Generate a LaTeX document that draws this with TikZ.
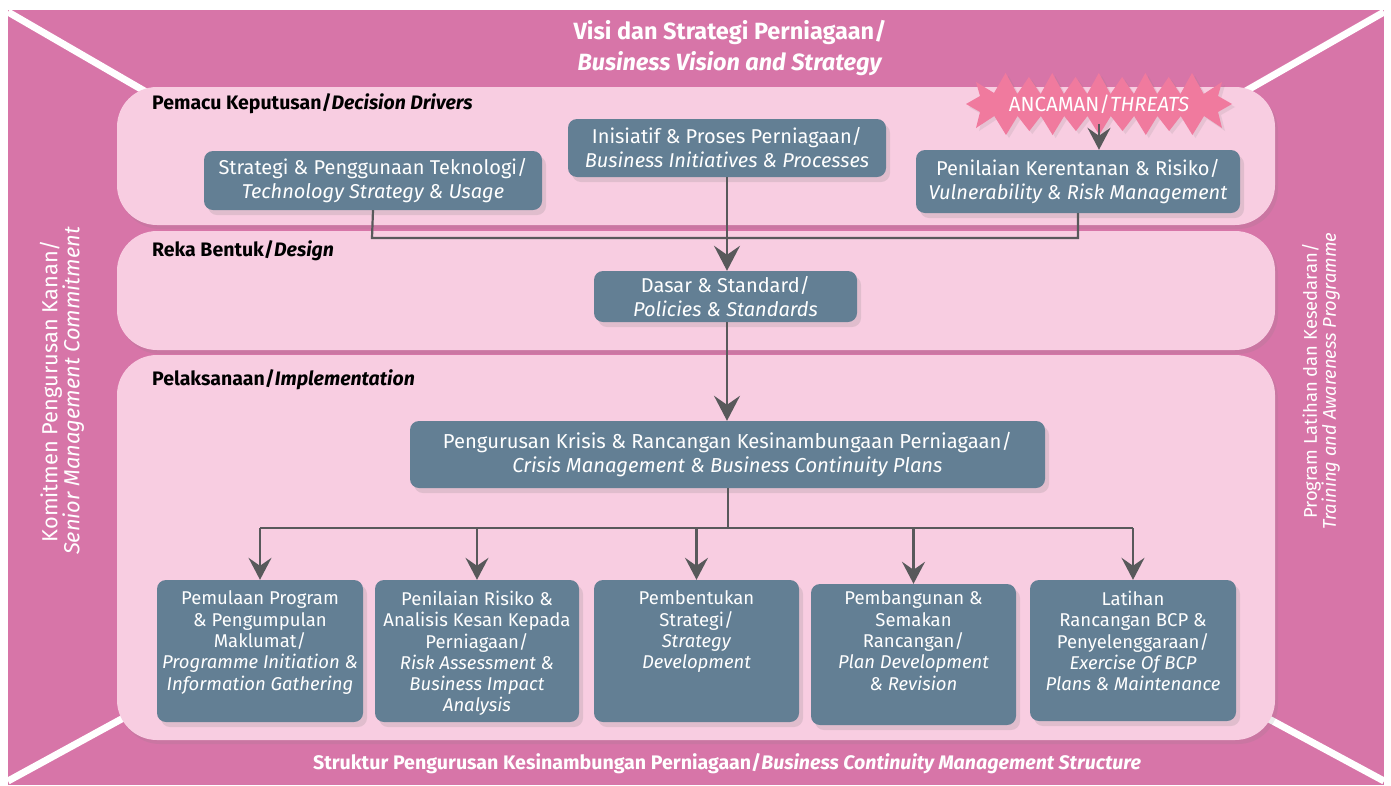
\documentclass[tikz,border=0pt]{standalone}
\usepackage{fontspec}
\setmainfont{Fira Sans}
\usetikzlibrary{arrows.meta,shadows}
\definecolor{outerc}{HTML}{D775A8}
\definecolor{panelc}{HTML}{F8CDE1}
\definecolor{boxc}{HTML}{637F94}
\definecolor{arrc}{HTML}{58595B}
\definecolor{starc}{HTML}{F07A9E}
\tikzset{
  panel/.style={fill=panelc, rounded corners=40pt, drop shadow={shadow xshift=3pt, shadow yshift=-4pt, opacity=0.15}},
  box/.style={fill=boxc, text=white, rounded corners=9pt, align=center, inner sep=0pt,
    drop shadow={shadow xshift=4pt, shadow yshift=-5pt, opacity=0.2}},
  topbox/.style={box, font=\fontsize{20}{24}\selectfont},
  bbox/.style={box},
  btext/.style={text=white, align=center, inner sep=0pt, anchor=north, font=\fontsize{18.5}{21.3}\selectfont},
  plabel/.style={anchor=west, inner sep=0pt, font=\fontsize{19.5}{20}\selectfont\bfseries},
  conn/.style={draw=arrc, line width=2.2pt},
  arr/.style={conn, -{Stealth[length=25pt, width=26pt, inset=9pt]}},
  sarr/.style={conn, -{Stealth[length=22pt, width=23pt, inset=8pt]}},
  diag/.style={white, line width=7pt},
}
\begin{document}
\begin{tikzpicture}[x=1pt, y=-1pt]
\useasboundingbox (0,0) rectangle (1391,785);
\fill[white] (0,0) rectangle (1391,785);
\fill[outerc] (8,10) rectangle (1384,785);
% diagonal lines
\draw[diag] (8,12) -- (160,100);
\draw[diag] (1384,12) -- (1230,100);
\draw[diag] (8,781) -- (160,698);
\draw[diag] (1384,781) -- (1230,698);
% panels
\fill[panel] (117,87) rectangle (1275,225);
\fill[panel] (117,231) rectangle (1275,350);
\fill[panel] (117,355) rectangle (1275,740);
% title
\node[text=white, align=center, font=\fontsize{23.5}{31}\selectfont\bfseries] (title) at (730,48)
  {Visi dan Strategi Perniagaan/\\\textit{Business Vision and Strategy}};
% panel labels
\node[plabel] (l1) at (152,104) {Pemacu Keputusan/\textit{Decision Drivers}};
\node[plabel] (l2) at (152,251) {Reka Bentuk/\textit{Design}};
\node[plabel] (l3) at (152,380) {Pelaksanaan/\textit{Implementation}};
% side texts
\node[text=white, align=center, rotate=90, font=\fontsize{21.8}{22}\selectfont] (left) at (62,391)
  {Komitmen Pengurusan Kanan/\\\textit{Senior Management Commitment}};
\node[text=white, align=center, rotate=90, font=\fontsize{18.4}{19}\selectfont] (right) at (1321,381)
  {Program Latihan dan Kesedaran/\\\textit{Training and Awareness Programme}};
% bottom text
\node[text=white, font=\fontsize{19.6}{20}\selectfont\bfseries] (bottom) at (727,764)
  {Struktur Pengurusan Kesinambungan Perniagaan/\textit{Business Continuity Management Structure}};
% threats starburst
\fill[starc, drop shadow={shadow xshift=3pt, shadow yshift=-3pt, opacity=0.15}]
  (966,104) -- (980,96) -- (976,82) -- (994,93)
  \foreach \k in {0,...,8} { -- ({994+23.3*\k+11.6},{73+4*mod(\k,2)}) -- ({994+23.3*(\k+1)},94) }
  -- (1222,82) -- (1218,96) -- (1232,104) -- (1218,112) -- (1222,128) -- (1204,116)
  \foreach \k in {0,...,8} { -- ({1204-23.3*\k-11.6},{135-4*mod(\k,2)}) -- ({1204-23.3*(\k+1)},116) }
  -- (976,128) -- (980,112) -- cycle;
\node[text=white, inner sep=0pt, minimum height=40pt, font=\fontsize{20.5}{22}\selectfont] (thr) at (1099,104)
  {ANCAMAN/\textit{THREATS}};
% boxes
\node[topbox, minimum width=338pt, minimum height=59pt] (tech) at (373,180.5)
  {Strategi \& Penggunaan Teknologi/\\\textit{Technology Strategy \& Usage}};
\node[topbox, minimum width=318pt, minimum height=58pt] (init) at (727,148)
  {Inisiatif \& Proses Perniagaan/\\\textit{Business Initiatives \& Processes}};
\node[topbox, minimum width=324pt, minimum height=63pt] (vuln) at (1078,181.5)
  {Penilaian Kerentanan \& Risiko/\\\textit{Vulnerability \& Risk Management}};
\node[topbox, minimum width=263pt, minimum height=51pt] (dasar) at (725.5,296.5)
  {Dasar \& Standard/\\\textit{Policies \& Standards}};
\node[box, minimum width=635pt, minimum height=67pt, font=\fontsize{20.2}{24}\selectfont] (crisis) at (727.5,454.5)
  {Pengurusan Krisis \& Rancangan Kesinambungaan Perniagaan/\\\textit{Crisis Management \& Business Continuity Plans}};
\node[bbox, minimum width=206pt, minimum height=142pt] (b1) at (260,651) {};
\node[bbox, minimum width=204pt, minimum height=142pt] (b2) at (477,651) {};
\node[bbox, minimum width=205pt, minimum height=142pt] (b3) at (696.5,651) {};
\node[bbox, minimum width=205pt, minimum height=141pt] (b4) at (913.5,654.5) {};
\node[bbox, minimum width=206pt, minimum height=141pt] (b5) at (1133,650.5) {};
\node[btext, yshift=-11pt] (b1t) at (b1.north)
  {Pemulaan Program\\\& Pengumpulan\\Maklumat/\\\textit{Programme Initiation \&}\\\textit{Information Gathering}};
\node[btext, yshift=-11pt] (b2t) at (b2.north)
  {Penilaian Risiko \&\\Analisis Kesan Kepada\\Perniagaan/\\\textit{Risk Assessment \&}\\\textit{Business Impact}\\\textit{Analysis}};
\node[btext, yshift=-11pt] (b3t) at (b3.north)
  {Pembentukan\\Strategi/\\\textit{Strategy}\\\textit{Development}};
\node[btext, yshift=-7pt] (b4t) at (b4.north)
  {Pembangunan \&\\Semakan\\Rancangan/\\\textit{Plan Development}\\\textit{\& Revision}};
\node[btext, yshift=-11pt] (b5t) at (b5.north)
  {Latihan\\Rancangan BCP \&\\Penyelenggaraan/\\\textit{Exercise Of BCP}\\\textit{Plans \& Maintenance}};
% connectors
\coordinate (jl) at (372,238);
\coordinate (jr) at (1078,238);
\draw[conn] (tech.south) -- (jl) -- (jr) -- (vuln.south);
\draw[arr] (init.south) -- (init.south |- dasar.north);
\draw[sarr] (thr.south) -- (thr.south |- vuln.north);
\draw[arr] (dasar.south -| init.south) -- (init.south |- crisis.north);
\coordinate (split) at (728,528);
\coordinate (hl) at (260,528);
\coordinate (hr) at (1133,528);
\draw[conn] (crisis.south -| split) -- (split);
\draw[conn] (hl) -- (hr);
\foreach \b in {b1,b2,b3,b4,b5} {
  \draw[sarr] (\b.north |- split) -- (\b.north);
}
\end{tikzpicture}
\end{document}
